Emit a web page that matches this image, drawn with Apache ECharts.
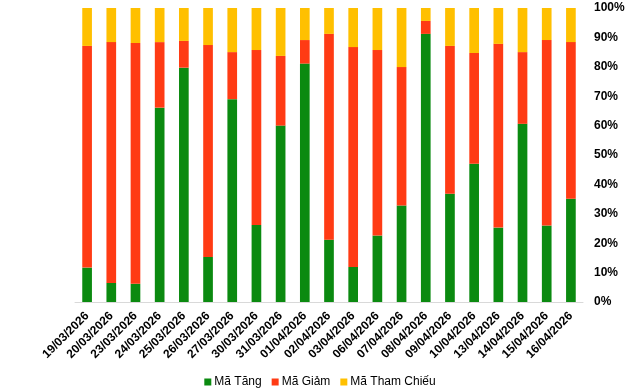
<!DOCTYPE html>
<html><head><meta charset="utf-8">
<script src="https://cdn.jsdelivr.net/npm/echarts@6/dist/echarts.min.js"></script>
<style>html,body{margin:0;padding:0;background:#fff}#c{width:640px;height:388px}</style>
</head><body><div id="c"></div>
<script>
const categories = ["19/03/2026","20/03/2026","23/03/2026","24/03/2026","25/03/2026","26/03/2026","27/03/2026","30/03/2026","31/03/2026","01/04/2026","02/04/2026","03/04/2026","06/04/2026","07/04/2026","08/04/2026","09/04/2026","10/04/2026","13/04/2026","14/04/2026","15/04/2026","16/04/2026"];
const maTang = [11.7,6.5,6.2,66.1,79.7,15.3,69.0,26.2,60.0,81.1,21.2,11.9,22.6,32.8,91.2,36.8,47.0,25.3,60.6,26.0,35.1];
const maGiam = [75.4,81.9,81.9,22.3,9.1,72.1,16.0,59.5,23.7,8.0,70.0,74.8,63.1,47.1,4.4,50.3,37.7,62.5,24.4,63.1,53.3];
const maThamChieu = [12.9,11.6,11.9,11.6,11.2,12.6,15.0,14.3,16.3,10.9,8.8,13.3,14.3,20.1,4.4,12.9,15.3,12.2,15.0,10.9,11.6];
const seriesNames = ["Mã Tăng","Mã Giảm","Mã Tham Chiếu"];
const colors = ["#0B8A10","#FF3B14","#FFC000"];
const font = "Arial, 'Liberation Sans', sans-serif";
const chart = echarts.init(document.getElementById('c'), null, {renderer:'canvas'});
const mk = (name, data, color) => ({
  name, type:'bar', stack:'total', data, barWidth:'40%',
  itemStyle:{color}, emphasis:{disabled:true}
});
chart.setOption({
  animation:false,
  textStyle:{fontFamily:font},
  grid:{left:75, right:57, top:8, bottom:86, containLabel:false},
  legend:{
    bottom:0, left:'center', padding:0, itemWidth:7, itemHeight:7, itemGap:10,
    icon:'rect',
    textStyle:{fontFamily:font, fontSize:12, color:'#000', padding:[0,0,0,-2]},
    data:seriesNames
  },
  xAxis:{
    type:'category', data:categories,
    axisLine:{show:true, lineStyle:{color:'#d9d9d9', width:1}},
    axisTick:{show:false},
    axisLabel:{rotate:45, interval:0, fontFamily:font, fontSize:12, fontWeight:'bold', color:'#000', margin:12}
  },
  yAxis:{
    type:'value', position:'right', min:0, max:100, interval:10,
    axisLine:{show:false}, axisTick:{show:false}, splitLine:{show:false},
    axisLabel:{formatter:'{value}%', fontFamily:font, fontSize:12, fontWeight:'bold', color:'#000', margin:11}
  },
  series:[
    mk(seriesNames[0], maTang, colors[0]),
    mk(seriesNames[1], maGiam, colors[1]),
    mk(seriesNames[2], maThamChieu, colors[2])
  ]
});
</script></body></html>
